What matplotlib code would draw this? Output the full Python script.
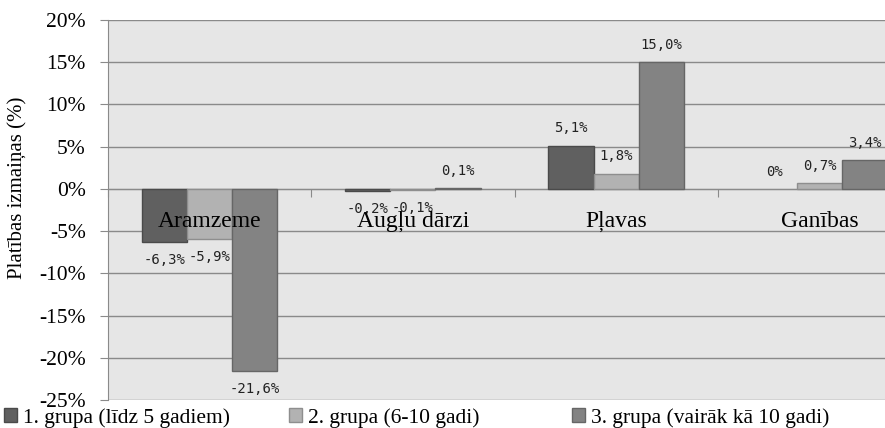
import matplotlib
matplotlib.use("Agg")
import matplotlib.pyplot as plt
import numpy as np

categories = ["Aramzeme", "Augļu dārzi", "Pļavas", "Ganības"]
series_names = ["1. grupa (līdz 5 gadiem)", "2. grupa (6-10 gadi)", "3. grupa (vairāk kā 10 gadi)"]
group1 = [-6.3, -0.2, 5.1, 0.0]
group2 = [-5.9, -0.1, 1.8, 0.7]
group3 = [-21.6, 0.1, 15.0, 3.4]
labels1 = ["-6,3%", "-0,2%", "5,1%", "0%"]
labels2 = ["-5,9%", "-0,1%", "1,8%", "0,7%"]
labels3 = ["-21,6%", "0,1%", "15,0%", "3,4%"]
yticks = [-25, -20, -15, -10, -5, 0, 5, 10, 15, 20]
ytick_labels = ["-25%", "-20%", "-15%", "-10%", "-5%", "0%", "5%", "10%", "15%", "20%"]
ylabel = "Platības izmaiņas (%)"

colors = ["#606060", "#b2b2b2", "#838383"]
edges = ["#4a4a4a", "#8e8e8e", "#666666"]

W, H = 885, 428
fig = plt.figure(figsize=(W / 100, H / 100), dpi=100)
fig.patch.set_facecolor("white")
ax = fig.add_axes([108 / W, 1 - 400 / H, (921 - 108) / W, (400 - 20) / H])
ax.set_facecolor("#e6e6e6")

serif = "Liberation Serif"
x = np.arange(len(categories))
bw = 0.222
series = [group1, group2, group3]
labs = [labels1, labels2, labels3]
handles = []
for i, (vals, lab) in enumerate(zip(series, labs)):
    bars = ax.bar(x + (i - 1) * bw, vals, width=bw, color=colors[i], edgecolor=edges[i],
                  linewidth=1.0, zorder=3, label=series_names[i])
    handles.append(bars)
    for b, v, t in zip(bars, vals, lab):
        if v == 0:
            b.set_linewidth(0)
        off = 12.5 if v >= 0 else -13
        ax.annotate(t, (b.get_x() + b.get_width() / 2, v), xytext=(0, off),
                    textcoords="offset points", ha="center", va="center",
                    fontsize=10, family="DejaVu Sans Mono", color="#222222", zorder=4)

ax.set_xlim(-0.5, len(categories) - 0.5)
ax.set_ylim(-25, 20)
ax.set_yticks(yticks)
ax.set_yticklabels(ytick_labels, fontsize=15.5, family=serif)
ax.yaxis.grid(True, color="#8a8a8a", linewidth=1.0, zorder=0)
ax.set_axisbelow(True)
ax.tick_params(axis="y", length=6, color="#8a8a8a", pad=10)

for s in ["top", "right"]:
    ax.spines[s].set_visible(False)
ax.spines["left"].set_color("#8a8a8a")
ax.spines["bottom"].set_position(("data", 0))
ax.spines["bottom"].set_color("#8a8a8a")
ax.spines["bottom"].set_zorder(2)
ax.set_xticks(np.arange(len(categories) + 1) - 0.5)
ax.set_xticklabels([])
ax.tick_params(axis="x", length=6, color="#8a8a8a", direction="out")

for xi, c in zip(x, categories):
    ax.text(xi, -3.9, c, ha="center", va="center", fontsize=17, family=serif, zorder=5)

fig.text(18 / W, 1 - 188 / H, ylabel, rotation=90, ha="center", va="center",
         fontsize=15, family=serif)

leg_x = [4, 289, 572]
for hx, h, n in zip(leg_x, handles, series_names):
    fig.legend([h], [n], loc="center left", bbox_to_anchor=(hx / W, 1 - 418 / H),
               frameon=False, handlelength=0.6, handleheight=0.6, handletextpad=0.3,
               borderpad=0, borderaxespad=0, prop={"family": serif, "size": 15.5})

fig.savefig("out.png", dpi=100)
